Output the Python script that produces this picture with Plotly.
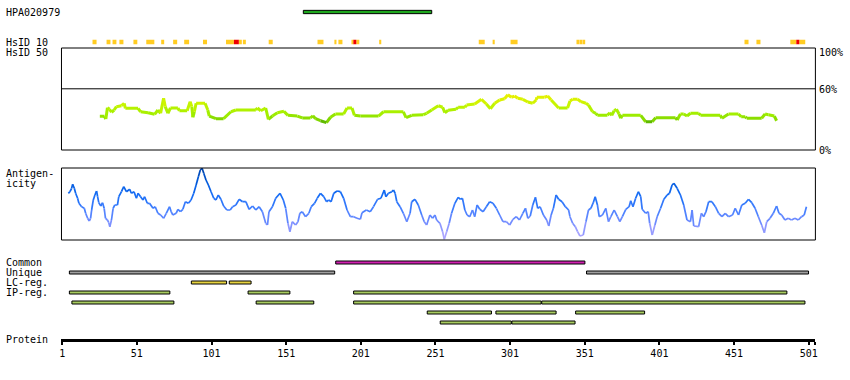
import plotly.graph_objects as go

# ---------------- data ----------------
protein_length = 505
tick_residues = [1, 51, 101, 151, 201, 251, 301, 351, 401, 451, 501]

antigen_name = "HPA020979"
antigen_start = [162.5]
antigen_end = [248.5]

hsid10_yellow_start = [21.3, 30.7, 34.7, 39.3, 48.7, 57.3, 67.3, 75.3, 82.7, 95.3, 110.7, 119.3, 122.0,
                       139.3, 172.0, 183.3, 186.0, 195.3, 198.0, 213.3, 280.0, 289.3, 301.3, 346.0,
                       348.0, 350.0, 458.0, 466.0, 488.7, 494.7]
hsid10_yellow_end = [24.0, 33.3, 37.3, 42.0, 51.3, 62.7, 69.3, 78.0, 86.0, 98.0, 116.0, 121.3, 124.0,
                     142.0, 176.0, 184.7, 188.7, 196.0, 200.0, 214.7, 284.0, 290.7, 306.0, 347.3,
                     349.3, 351.3, 460.7, 468.7, 492.7, 498.7]
hsid10_red_start = [116.0, 196.0, 492.7]
hsid10_red_end = [119.3, 198.0, 494.7]

hsid50_res = [26.2, 29.3, 30.2, 31.3, 32.7, 34, 35.8, 37.3, 40.7, 42.5, 43.3, 51.8, 53.5, 58.5, 62.9,
              65.1, 66.9, 68.9, 70, 71.8, 73.5, 78.5, 79.5, 84.7, 86.7, 87.8, 88.5, 89.5, 90.7, 96.7,
              98.5, 99.5, 104, 109.1, 114, 117.3, 130.7, 131.8, 134, 137.3, 139.1, 141.8, 145.1, 149.5,
              152.2, 158.5, 161.8, 167.3, 168.9, 170.7, 174, 178, 180.7, 184, 189.5, 191.8, 195.1,
              196.7, 200.7, 212.9, 216.2, 229.5, 231.3, 235.1, 242.9, 245.1, 248.5, 252.9, 255.8,
              257.3, 259.5, 264.7, 266.2, 270.7, 271.8, 277.3, 281.8, 285.1, 287.8, 290.7, 294, 297.3,
              299.5, 301.8, 304, 306.2, 309.5, 312.9, 316.2, 318.5, 318.9, 324, 326.2, 328.5, 333.5,
              339.5, 341.1, 342.9, 346.2, 348.5, 351.8, 353.5, 356.2, 358.5, 359.5, 366.2, 367.8,
              369.1, 370.7, 372.2, 374, 375.1, 376.2, 388.5, 391.8, 396.2, 398.5, 411.8, 412.9, 415.1,
              417.3, 419.5, 421.8, 427.3, 428.5, 441.8, 442.9, 447.3, 454, 455.8, 458.5, 459.5, 469.5,
              471.8, 474, 478, 479.5]
hsid50_pct = [33.0, 33.0, 30.4, 41.5, 39.9, 37.0, 39.2, 42.5, 43.4, 45.8, 40.9, 40.9, 37.5, 36.6, 35.0,
              39.2, 36.0, 50.7, 42.5, 36.0, 41.2, 41.2, 38.5, 38.5, 47.4, 42.5, 32.1, 37.5, 45.8, 45.8,
              39.2, 33.3, 30.7, 30.7, 37.5, 39.2, 39.2, 41.2, 38.5, 41.2, 30.1, 33.3, 36.6, 37.9,
              34.0, 33.3, 31.4, 31.4, 33.6, 30.7, 28.7, 26.8, 32.1, 35.3, 35.3, 41.2, 41.2,
              34.0, 33.3, 33.3, 37.5, 37.5, 31.7, 34.0, 34.6, 36.0, 39.2, 43.4, 41.9,
              36.6, 38.9, 39.9, 41.9, 41.9, 44.1, 45.1, 49.7, 45.1, 40.5, 45.8, 49.0, 50.3,
              54.2, 51.7, 52.9, 50.7, 49.7, 47.1, 45.8, 49.0, 51.7, 51.7, 52.9, 49.0, 41.2,
              41.2, 48.0, 49.7, 49.7, 47.4, 45.8, 44.1, 37.5, 36.0, 34.0, 34.0, 36.6,
              34.0, 38.5, 39.9, 35.3, 31.1, 34.0, 34.0, 27.7, 27.7, 31.7, 31.7, 29.4, 35.3,
              35.3, 33.3, 36.0, 36.0, 34.0, 34.0, 31.1, 35.3, 35.3, 32.6, 32.6, 31.1, 31.1,
              35.3, 34.6, 33.3, 28.7]

antigen_res = [5.1, 6.2, 7.3, 8, 9.1, 10, 11.3, 12.2, 14, 15.8,
               16.7, 18, 19.1, 20, 20.7, 21.8, 22.9, 24, 24.7, 25.5,
               26.9, 28, 29.1, 30, 31.3, 32.2, 32.9, 34, 35.1, 36.2,
               38, 38.9, 40.7, 42.2, 44, 46.2, 47.3, 49.1, 50.7, 51.8,
               53.5, 55.1, 56.2, 58, 59.5, 61.8, 63.3, 65.1, 66.9, 68.9,
               70.7, 72.9, 74, 75.1, 77.3, 78.5, 80.2, 81.8, 83.5, 85.5,
               87.3, 89.1, 90.7, 92.2, 93.5, 94.7, 95.8, 97.3, 98.9, 100.7,
               102.5, 104, 105.5, 107.3, 109.1, 111.3, 113.5, 115.1, 117.3, 119.5,
               121.8, 124, 126.2, 128.5, 130.7, 132.9, 135.1, 137.3, 138.5, 139.5,
               141.8, 144, 146.9, 149.1, 150.7, 152.2, 153.5, 155.1, 157.3, 158.9,
               160.2, 161.8, 164, 166.2, 167.8, 170, 171.8, 174, 176.2, 178,
               179.5, 181.1, 182.9, 185.1, 187.3, 189.5, 191.8, 194, 196.2, 198.5,
               200.7, 201.8, 204.7, 207.3, 209.5, 212.2, 214.5, 216.7, 217.8, 219.5,
               221.8, 222.9, 224, 225.1, 227.3, 229.5, 231.8, 234, 235.1, 237.3,
               239.5, 241.8, 243.5, 245.1, 247.3, 249.1, 250.7, 251.8, 254, 255.8,
               256.9, 258.5, 260.2, 261.8, 264, 266.2, 267.8, 269.1, 270.7, 272.2,
               274, 275.8, 277.3, 278.9, 280.7, 282.9, 285.1, 287.3, 289.5, 291.8,
               294, 296.2, 298.5, 300.7, 302.9, 305.1, 307.3, 309.5, 311.3, 312.9,
               314.5, 316.2, 318, 319.5, 321.1, 323.3, 325.5, 326.9, 328.5, 330,
               331.8, 333.5, 335.8, 338, 340.2, 341.1, 342.9, 344.7, 346.2, 347.8,
               350, 351.8, 353.5, 355.1, 356.7, 358, 359.5, 360.7, 362.9, 365.1,
               366.9, 368.5, 370.7, 372.9, 374.5, 376.2, 378.5, 380.7, 381.8, 383.3,
               385.1, 386.9, 388.5, 389.5, 391.8, 393.5, 394.5, 396.2, 398, 399.5,
               401.8, 404, 406.2, 407.8, 409.5, 410.7, 412.9, 415.1, 417.3, 419.5,
               421.8, 422.9, 424, 427.3, 429.1, 430.7, 432.2, 434, 436.2, 438.5,
               440.7, 442.9, 445.1, 447.3, 450, 451.8, 454, 456.2, 458.5, 460.7,
               462.9, 465.1, 467.3, 469.5, 471.3, 472.9, 475.1, 477.3, 479.5, 481.1,
               482.9, 485.1, 487.3, 489.5, 491.8, 494, 496.2, 498, 499.5]
antigen_val = [46.7, 48.3, 51.7, 55.7, 51.7, 46.7, 41.7, 36.7, 33.3, 31.7,
               26.7, 21.7, 19, 21.7, 30, 40, 45, 49, 43.3, 37.3,
               34, 37.3, 31.7, 21.7, 20, 17.3, 13.3, 20, 31.7, 35,
               35, 43.3, 48.3, 53.3, 48.3, 50.7, 46.7, 48.3, 41.7, 46.7,
               43.3, 40, 43.3, 36.7, 36.7, 31.7, 33.3, 26.7, 25, 21.7,
               26.7, 33.3, 28.3, 25, 26.7, 30.7, 28.3, 30.7, 38.3, 36.7,
               40, 46.7, 55, 63.3, 70, 71.7, 66.7, 60, 55, 48.3,
               41.7, 40, 45, 40.7, 34, 30, 30, 33.3, 35, 40.7,
               38.3, 38.3, 30.7, 34, 30, 33.3, 28.3, 16.7, 15, 28.3,
               33.3, 41.7, 46.7, 40, 31.7, 16.7, 8.3, 18.3, 15, 18.3,
               26.7, 28.3, 23.3, 26.7, 33.3, 36.7, 41.7, 46.7, 43.3, 38.3,
               40, 38.3, 46.7, 49, 48.3, 41.7, 30, 23.3, 23.3, 21.7,
               20.7, 27.3, 30, 28.3, 33.3, 40.7, 41.7, 50, 43.3, 46.7,
               48.3, 50, 46.7, 38.3, 33.3, 26.7, 18.3, 26.7, 38.3, 40.7,
               35, 25, 18.3, 15, 25, 21.7, 25, 20, 16.7, 8.3,
               0.7, 8.3, 16.7, 26.7, 36.7, 42.7, 40.7, 41.7, 30, 25,
               23.3, 30, 23.3, 35, 30.7, 28.3, 33.3, 38.3, 36.7, 31.7,
               25, 18.3, 18.3, 15, 20.7, 23.3, 20, 26.7, 31.7, 21.7,
               24, 35, 42.7, 31.7, 33.3, 25, 20, 14, 25, 31.7,
               45, 40.7, 38.3, 33.3, 30, 23.3, 16.7, 13.3, 8.3, 4,
               5, 18.3, 30, 31.7, 37.3, 43.3, 35, 23.3, 25, 31.7,
               18.3, 23.3, 30, 23.3, 18.3, 23.3, 30.7, 33.3, 39.3, 33.3,
               41.7, 48.3, 43.3, 30.7, 26.7, 28.3, 16.7, 5, 15, 23.3,
               31.7, 40.7, 45, 46.7, 55, 56.7, 51.7, 45, 35, 20,
               18.3, 30, 14, 13.3, 26.7, 23.3, 28.3, 38.3, 38.3, 33.3,
               26.7, 23.3, 26.7, 23.3, 25, 31.7, 25, 35, 36.7, 40.7,
               37.3, 31.7, 23.3, 15, 7.3, 18.3, 21.7, 26.7, 34, 26.7,
               25, 20, 21.7, 20, 21.7, 20, 23.3, 25, 33.3]
antigen_max = 72

common_start = [184.2]
common_end = [351.1]
unique_start = [5.8, 352.2]
unique_end = [183.5, 500.9]
lc_start = [87.5, 112.9]
lc_end = [111.1, 127.5]
ip1_start = [5.8, 125.5, 196.2]
ip1_end = [73.1, 153.5, 486.4]
ip2_start = [7.5, 130.9, 196.2, 322.2]
ip2_end = [75.8, 169.5, 321.8, 498.5]
ip3_start = [245.5, 291.5, 344.9]
ip3_end = [288.5, 331.8, 391.1]
ip4_start = [254.2, 302.2]
ip4_end = [301.8, 344.5]

# ---------------- layout helpers ----------------
W, H = 850, 380
FONT = "DejaVu Sans Mono"


def py(p):
    return 1 - p / H


def interp(stops, v):
    if v <= stops[0][0]:
        return stops[0][1]
    for (v0, c0), (v1, c1) in zip(stops, stops[1:]):
        if v <= v1:
            t = (v - v0) / (v1 - v0)
            return tuple(int(round(a + (b - a) * t)) for a, b in zip(c0, c1))
    return stops[-1][1]


def colored_line(xs, ys, stops, yaxis, width, step):
    groups = {}
    for i in range(min(len(xs), len(ys)) - 1):
        m = (ys[i] + ys[i + 1]) / 2
        q = round(m / step) * step
        c = interp(stops, q)
        key = "rgb(%d,%d,%d)" % c
        g = groups.setdefault(key, ([], []))
        g[0].extend([xs[i], xs[i + 1], None])
        g[1].extend([ys[i], ys[i + 1], None])
    traces = []
    for col, (gx, gy) in groups.items():
        traces.append(go.Scatter(x=gx, y=gy, mode="lines", xaxis="x", yaxis=yaxis,
                                 line=dict(color=col, width=width), hoverinfo="skip",
                                 showlegend=False, connectgaps=False))
    return traces


def hbar(starts, ends, row, color, yaxis, width, outline=True):
    return go.Bar(orientation="h", base=starts, x=[e - s for s, e in zip(starts, ends)],
                  y=[row] * len(starts), width=width, xaxis="x", yaxis=yaxis,
                  marker=dict(color=color, line=dict(color="black", width=1 if outline else 0)),
                  hoverinfo="skip", showlegend=False)


fig = go.Figure()

# top track: antigen bar + HsID 10
fig.add_trace(hbar(antigen_start, antigen_end, 0, "#1ea81e", "y", 0.11))
fig.add_trace(hbar(hsid10_yellow_start, hsid10_yellow_end, 1, "#ffcc22", "y", 0.15, outline=False))
fig.add_trace(hbar(hsid10_red_start, hsid10_red_end, 1, "#ee0000", "y", 0.15, outline=False))

# HsID 50 curve
green_stops = [(26, (85, 175, 0)), (30, (130, 215, 0)), (35, (160, 238, 0)),
               (45, (200, 245, 0)), (54, (235, 240, 0))]
for t in colored_line(hsid50_res, hsid50_pct, green_stops, "y2", 3, 1.5):
    fig.add_trace(t)

# Antigenicity curve
blue_stops = [(0, (180, 170, 255)), (8, (160, 160, 255)), (18, (115, 140, 255)),
              (30, (70, 128, 255)), (45, (20, 108, 245)), (60, (0, 88, 215)), (72, (0, 65, 165))]
for t in colored_line(antigen_res, antigen_val, blue_stops, "y3", 1.7, 2):
    fig.add_trace(t)

# feature tracks
fig.add_trace(hbar(common_start, common_end, 0, "#d020b0", "y4", 0.3))
fig.add_trace(hbar(unique_start, unique_end, 1, "#a0a0a0", "y4", 0.3))
fig.add_trace(hbar(lc_start, lc_end, 2, "#e8d440", "y4", 0.3))
fig.add_trace(hbar(ip1_start, ip1_end, 3, "#a8cc60", "y4", 0.3))
fig.add_trace(hbar(ip2_start, ip2_end, 4, "#a8cc60", "y4", 0.3))
fig.add_trace(hbar(ip3_start, ip3_end, 5, "#a8cc60", "y4", 0.3))
fig.add_trace(hbar(ip4_start, ip4_end, 6, "#a8cc60", "y4", 0.3))

x_left = 59.75 / W
x_right = 817.25 / W

fig.update_layout(
    width=W, height=H, autosize=False,
    margin=dict(l=0, r=0, t=0, b=0, pad=0),
    paper_bgcolor="white", plot_bgcolor="white",
    barmode="overlay",
    font=dict(family=FONT, size=10, color="black"),
    xaxis=dict(domain=[x_left, x_right], range=[0.5, protein_length + 0.5],
               anchor="free", position=py(340),
               showgrid=False, zeroline=False,
               showline=True, linewidth=3, linecolor="black",
               ticks="outside", ticklen=3, tickwidth=2, tickcolor="black",
               tickvals=tick_residues + [protein_length + 0.2],
               ticktext=[str(t) for t in tick_residues] + [""],
               tickfont=dict(family=FONT, size=10, color="black"), fixedrange=True),
    yaxis=dict(domain=[py(48), 1], range=[1.2, -0.4], visible=False, fixedrange=True),
    yaxis2=dict(domain=[py(150), py(48)], range=[0, 100], visible=False, fixedrange=True),
    yaxis3=dict(domain=[py(240), py(168)], range=[0, antigen_max], visible=False, fixedrange=True),
    yaxis4=dict(domain=[py(327.5), py(257.5)], range=[6.5, -0.5], visible=False, fixedrange=True),
)

# boxes
fig.add_shape(type="rect", xref="x domain", yref="y2 domain", x0=0, x1=1, y0=0, y1=1,
              line=dict(color="black", width=1), fillcolor="rgba(0,0,0,0)", layer="above")
fig.add_shape(type="line", xref="x domain", yref="y2", x0=0, x1=1, y0=60, y1=60,
              line=dict(color="black", width=1), layer="below")
fig.add_shape(type="rect", xref="x domain", yref="y3 domain", x0=0, x1=1, y0=0, y1=1,
              line=dict(color="black", width=1), fillcolor="rgba(0,0,0,0)", layer="above")

# labels
left_labels = [(antigen_name, 12.5), ("HsID 10", 42.3), ("HsID 50", 52.5), ("Antigen-", 173),
               ("icity", 183.5), ("Common", 262.5), ("Unique", 272.5), ("LC-reg.", 282.5),
               ("IP-reg.", 292.5), ("Protein", 339.5)]
for txt, p in left_labels:
    fig.add_annotation(text=txt, xref="paper", yref="paper", x=3 / W, y=py(p),
                       xanchor="left", yanchor="middle", showarrow=False,
                       font=dict(family=FONT, size=10, color="black"), borderpad=0)

right_labels = [("100%", 52.5), ("60%", 90), ("0%", 150)]
for txt, p in right_labels:
    fig.add_annotation(text=txt, xref="paper", yref="paper", x=819.5 / W, y=py(p),
                       xanchor="left", yanchor="middle", showarrow=False,
                       font=dict(family=FONT, size=10, color="black"), borderpad=0)

fig.write_html("out.html", config={"displayModeBar": False},
               post_script="document.body.style.margin='0';document.body.style.overflow='hidden';")
